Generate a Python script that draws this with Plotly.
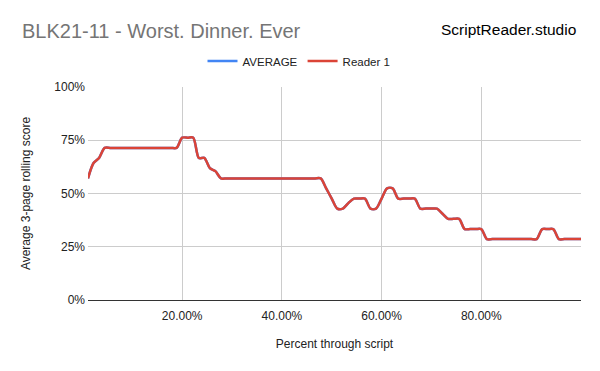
import plotly.graph_objects as go

n_pages = 90
pages = list(range(1, n_pages + 1))
pct_through = [p / n_pages * 100 for p in pages]

reader1 = [
    0.571, 0.643, 0.667, 0.714, 0.714, 0.714, 0.714, 0.714, 0.714, 0.714,  # 1-10
    0.714, 0.714, 0.714, 0.714, 0.714, 0.714, 0.714, 0.762, 0.762, 0.762,  # 11-20
    0.667, 0.667, 0.619, 0.605, 0.571, 0.571, 0.571, 0.571, 0.571, 0.571,  # 21-30
    0.571, 0.571, 0.571, 0.571, 0.571, 0.571, 0.571, 0.571, 0.571, 0.571,  # 31-40
    0.571, 0.571, 0.571, 0.524, 0.476, 0.429, 0.429, 0.455, 0.476, 0.476,  # 41-50
    0.476, 0.429, 0.429, 0.476, 0.524, 0.524, 0.476, 0.476, 0.476, 0.476,  # 51-60
    0.429, 0.429, 0.429, 0.429, 0.405, 0.381, 0.381, 0.381, 0.333, 0.333,  # 61-70
    0.333, 0.333, 0.286, 0.286, 0.286, 0.286, 0.286, 0.286, 0.286, 0.286,  # 71-80
    0.286, 0.286, 0.333, 0.333, 0.333, 0.286, 0.286, 0.286, 0.286, 0.286,  # 81-90
]
average = list(reader1)

y_ticks = [0, 0.25, 0.5, 0.75, 1.0]
y_labels = ["0%", "25%", "50%", "75%", "100%"]
x_ticks = [20, 40, 60, 80, 100]
x_labels = ["20.00%", "40.00%", "60.00%", "80.00%", ""]

title_text = "BLK21-11 - Worst. Dinner. Ever"
brand_text = "ScriptReader.studio"

FONT = "Arial, 'Liberation Sans', sans-serif"

fig = go.Figure()
fig.add_trace(go.Scatter(
    x=pct_through, y=average, name="AVERAGE", mode="lines",
    line=dict(color="#4285F4", width=2.5, shape="spline", smoothing=0.8),
))
fig.add_trace(go.Scatter(
    x=pct_through, y=reader1, name="Reader 1", mode="lines",
    line=dict(color="#DB4437", width=2.5, shape="spline", smoothing=0.8),
))

fig.update_layout(
    width=600, height=371,
    margin=dict(l=80, r=27, t=79, b=79),
    paper_bgcolor="white", plot_bgcolor="white",
    font=dict(family=FONT, size=12, color="#222222"),
    showlegend=True,
    legend=dict(orientation="h", x=0.428, xanchor="center", y=1.122, yanchor="middle",
                font=dict(size=11.5, color="#222222"), itemwidth=30,
                traceorder="normal"),
    annotations=[
        dict(text=title_text, xref="paper", yref="paper", x=-0.138, y=1.263,
             xanchor="left", yanchor="middle", showarrow=False,
             font=dict(size=20, color="#757575", family=FONT)),
        dict(text=brand_text, xref="paper", yref="paper", x=0.994, y=1.268,
             xanchor="right", yanchor="middle", showarrow=False,
             font=dict(size=15.5, color="#000000", family=FONT)),
    ],
)
fig.update_xaxes(
    range=[pct_through[0], 100], tickvals=x_ticks, ticktext=x_labels,
    showgrid=True, gridcolor="#cccccc", gridwidth=1,
    showline=True, linecolor="#333333", linewidth=1, zeroline=False,
    ticks="", ticklabelstandoff=5, tickfont=dict(size=12, color="#222222"),
    title=dict(text="Percent through script", font=dict(size=12, color="#222222"), standoff=17),
)
fig.update_yaxes(
    range=[0, 1.0], tickvals=y_ticks, ticktext=y_labels,
    showgrid=True, gridcolor="#cccccc", gridwidth=1,
    zeroline=False, showline=False, ticks="", ticklabelstandoff=2,
    tickfont=dict(size=12, color="#222222"),
    title=dict(text="Average 3-page rolling score", font=dict(size=12, color="#222222"), standoff=21),
)

fig.write_html("out.html")
